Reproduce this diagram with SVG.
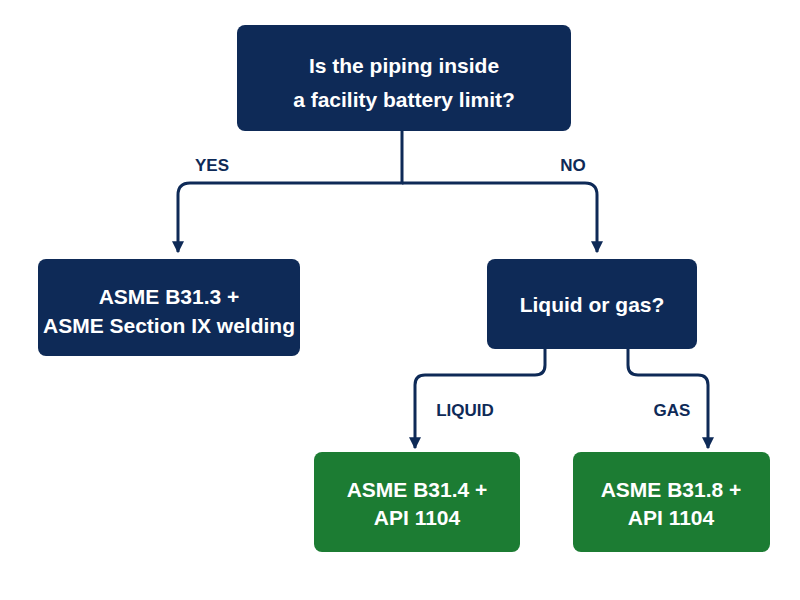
<svg xmlns="http://www.w3.org/2000/svg" width="800" height="600" viewBox="0 0 800 600">
<defs>
<style>
.n{fill:#0e2a57}.g{fill:#1c7c33}
.t{fill:#fff;font-family:"Liberation Sans",Arial,sans-serif;font-weight:bold;font-size:21px;text-anchor:middle}
.l{fill:#0e2a57;font-family:"Liberation Sans",Arial,sans-serif;font-weight:bold;font-size:17px;text-anchor:middle}
.c{fill:none;stroke:#0e2a57;stroke-width:3}
</style>
<marker id="a" viewBox="0 0 10 10" refX="9" refY="5" markerWidth="4" markerHeight="4" orient="auto"><path d="M0,0L10,5L0,10z" fill="#0e2a57"/></marker>
</defs>
<rect width="800" height="600" fill="#fff"/>
<g id="connectors">
<path class="c" d="M402,131V183H190Q178,183 178,195V252" marker-end="url(#a)"/>
<path class="c" d="M402,183H585Q597,183 597,195V252" marker-end="url(#a)"/>
<path class="c" d="M545,349V365Q545,375 535,375H425Q415,375 415,385V448" marker-end="url(#a)"/>
<path class="c" d="M628,349V365Q628,375 638,375H698Q708,375 708,385V448" marker-end="url(#a)"/>
<text class="l" x="212" y="171">YES</text>
<text class="l" x="573" y="171">NO</text>
<text class="l" x="465" y="416">LIQUID</text>
<text class="l" x="672" y="416">GAS</text>
</g>
<g id="q1"><rect class="n" x="237" y="25" width="334" height="106" rx="8"/>
<text class="t" x="404" y="73">Is the piping inside</text><text class="t" x="404" y="107">a facility battery limit?</text></g>
<g id="b313"><rect class="n" x="38" y="259" width="262" height="97" rx="8"/>
<text class="t" x="169" y="304">ASME B31.3 +</text><text class="t" x="169" y="333">ASME Section IX welding</text></g>
<g id="q2"><rect class="n" x="487" y="259" width="210" height="90" rx="8"/>
<text class="t" x="592" y="312">Liquid or gas?</text></g>
<g id="b314"><rect class="g" x="314" y="452" width="206" height="100" rx="8"/>
<text class="t" x="417" y="497">ASME B31.4 +</text><text class="t" x="417" y="525">API 1104</text></g>
<g id="b318"><rect class="g" x="573" y="452" width="197" height="100" rx="8"/>
<text class="t" x="671" y="497">ASME B31.8 +</text><text class="t" x="671" y="525">API 1104</text></g>
</svg>
